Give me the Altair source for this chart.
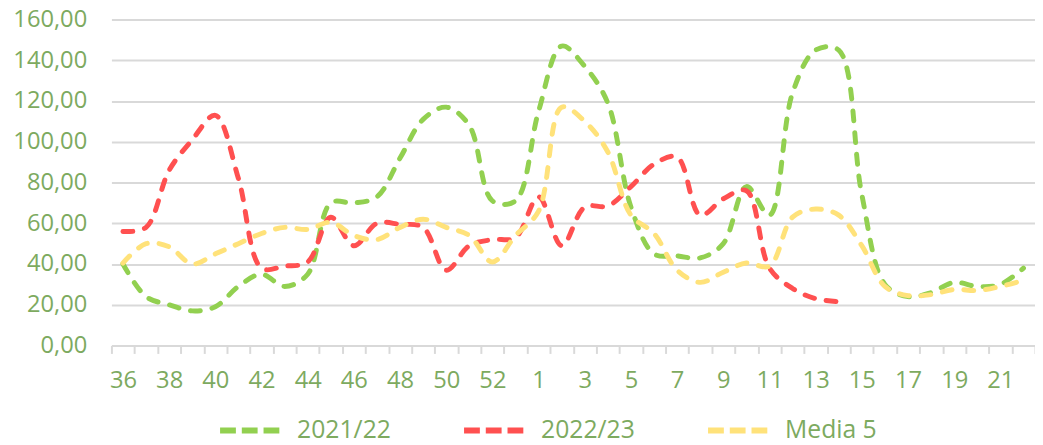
import altair as alt
import pandas as pd

weeks = [str(w) for w in range(36, 54)] + [str(w) for w in range(1, 23)]

s2122 = [40, 24, 20, 17, 19, 29, 35, 29, 35, 70, 70, 73, 92, 111, 117, 108, 71, 71,
         115, 147, 137, 119, 68, 45, 44, 43, 50, 78, 64, 124, 145, 145, 74, 30, 24, 26, 31, 29, 30, 38]
s2223 = [56, 58, 86, 101, 113, 82, 38, 39, 41, 63, 49, 60, 59.5, 58, 37, 49, 52, 53,
         73, 49, 68, 68.5, 78, 89, 92.5, 64, 72, 76, 38, 28, 23, 21.5]
media5 = [40.5, 50, 48.5, 40, 45, 50, 55, 58, 57, 60.5, 54, 52, 58, 62, 58, 54, 41, 54,
          66, 117, 110, 95, 64, 55, 37, 31, 36, 40.5, 39, 63, 67, 64, 49, 29, 24.5, 25, 27.5, 27, 29, 32]

series_names = ["2021/22", "2022/23", "Media 5"]
series_colors = ["#92D050", "#FF5050", "#FFE27A"]
y_ticks = [0, 20, 40, 60, 80, 100, 120, 140, 160]

rows = []
for name, vals in zip(series_names, [s2122, s2223, media5]):
    for i, v in enumerate(vals):
        rows.append({"pos": i + 0.5, "week": weeks[i], "value": v, "serie": name})
df = pd.DataFrame(rows)

n = len(weeks)
text_color = "#7DAA5F"
grid_color = "#D9D9D9"
font = "Open Sans"

week_lookup = "split('" + ",".join(weeks) + "', ',')[floor(datum.value)]"

x_scale = alt.Scale(domain=[0, n], nice=False, zero=False)

label_axis = alt.Axis(
    values=[i + 0.5 for i in range(0, n, 2)],
    labelExpr=week_lookup,
    ticks=False, grid=False, domain=True,
    domainColor=grid_color, domainWidth=2,
    labelFont=font, labelFontSize=24, labelColor=text_color,
    labelPadding=24, labelFlush=False, labelOverlap=False,
    orient="bottom", title=None,
)
tick_axis = alt.Axis(
    values=list(range(0, n + 1)),
    labels=False, ticks=True, tickSize=8, tickColor=grid_color, tickWidth=2,
    grid=False, domain=False, orient="bottom", title=None,
)
y_axis = alt.Axis(
    values=y_ticks,
    labelExpr="replace(format(datum.value, '.2f'), '.', ',')",
    grid=True, gridColor=grid_color, gridWidth=2,
    domain=False, ticks=False,
    labelFont=font, labelFontSize=24, labelColor=text_color, labelPadding=25,
    title=None,
)

lines = alt.Chart(df).mark_line(
    interpolate="catmull-rom", strokeWidth=5, strokeDash=[10, 12], strokeCap="round", clip=True
).encode(
    x=alt.X("pos:Q", scale=x_scale, axis=label_axis),
    y=alt.Y("value:Q", scale=alt.Scale(domain=[0, 160], nice=False), axis=y_axis),
    color=alt.Color(
        "serie:N",
        scale=alt.Scale(domain=series_names, range=series_colors),
        legend=alt.Legend(
            orient="none", legendX=107, legendY=383, direction="horizontal",
            title=None, symbolType="stroke", symbolSize=3600, symbolStrokeWidth=6,
            symbolDash=[16, 6], labelFont=font, labelFontSize=25, labelColor=text_color,
            columnPadding=62, labelOffset=15,
        ),
    ),
    detail="serie:N",
)

ticks_layer = alt.Chart(df).mark_point(opacity=0).encode(
    x=alt.X("pos:Q", scale=x_scale, axis=tick_axis),
)

chart = alt.layer(lines, ticks_layer).resolve_axis(x="independent").properties(
    width=935, height=330,
    autosize=alt.AutoSizeParams(type="none"),
    padding={"left": 104.7, "top": 9, "right": 0, "bottom": 98},
).configure_view(stroke=None)

chart.save("out.html", embed_options={"renderer": "svg", "actions": False})
